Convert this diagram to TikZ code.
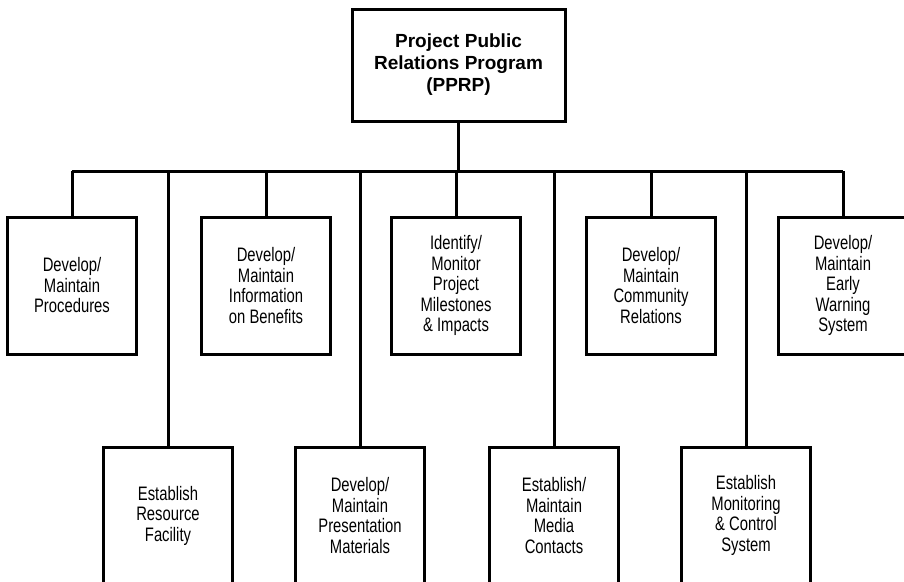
\documentclass[tikz,border=0pt]{standalone}
\usepackage{fontspec}
\setmainfont{Liberation Sans}
\newfontfamily\boxfont{Liberation Sans}[FakeStretch=0.76]
\begin{document}
\begin{tikzpicture}[
	x=1pt, y=-1pt, line width=3pt,
	task/.style={ draw, rectangle, inner sep=0pt, minimum width=129pt, minimum height=137pt, align=center, font=\boxfont\fontsize{19.5}{20.5}\selectfont },
	head/.style={ draw, rectangle, inner sep=0pt, minimum width=213pt, minimum height=112pt, align=center, font=\bfseries\fontsize{19}{22}\selectfont }
]
\useasboundingbox (0,0) rectangle (904,581);
\clip (0,0) rectangle (904,581);

\node at (458.5,65) (pprp) [head] {Project Public\\Relations Program\\(PPRP)};

\coordinate (busl) at (72,171);
\coordinate (busr) at (843,171);
\draw (busl) -- (busr);
\draw (pprp) -- (pprp.south |- busl);

% upper row
\node at (72,285.5) (t1) [task] {Develop/\\Maintain\\Procedures};
\node at (266,285.5) (t2) [task] {Develop/\\Maintain\\Information\\on Benefits};
\node at (456,285.5) (t3) [task] {Identify/\\Monitor\\Project\\Milestones\\\& Impacts};
\node at (651,285.5) (t4) [task] {Develop/\\Maintain\\Community\\Relations};
\node at (843,285.5) (t5) [task] {Develop/\\Maintain\\Early\\Warning\\System};

% lower row
\node at (168,515.5) (b1) [task] {Establish\\Resource\\Facility};
\node at (360,515.5) (b2) [task] {Develop/\\Maintain\\Presentation\\Materials};
\node at (554,515.5) (b3) [task] {Establish/\\Maintain\\Media\\Contacts};
\node at (746,515.5) (b4) [task] {Establish\\Monitoring\\\& Control\\System};

\foreach \p in {t1,t2,t3,t4,t5,b1,b2,b3,b4} \draw (\p.north) -- (\p.north |- busl);

\end{tikzpicture}
\end{document}
